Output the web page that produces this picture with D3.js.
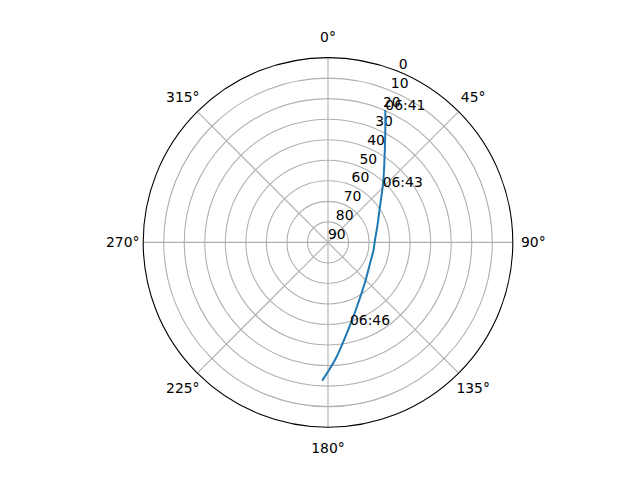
<!DOCTYPE html>
<html>
<head>
  <style>
    body { margin: 0; background: #ffffff; }
    svg { display: block; font-family: "DejaVu Sans", sans-serif; }
  </style>
</head>
<body>
  <div id="chart"></div>

  <script src="https://d3js.org/d3.v7.min.js"></script>
  <script>
    // pass track: azimuth (deg, clockwise from north) and elevation (deg)
    var trackAz = [23.4, 27.7, 36.6, 44.5, 55.5, 72.3, 87.1, 99.5, 112.3, 134.9, 151.5, 162.8, 170.7, 176.6, 182.4];
    var trackEl = [19.7, 30.0, 44.1, 52.0, 59.3, 64.8, 67.1, 67.5, 67.4, 64.1, 58.1, 50.4, 41.8, 32.6, 22.6];

    // time annotations along the pass
    var labelTimes = ["06:41", "06:43", "06:46"];
    var labelAz = [23.4, 44.5, 165.1];
    var labelEl = [19.7, 52.0, 48.4];

    // ticks
    var angleTicks = [0, 45, 90, 135, 180, 225, 270, 315];
    var radialTicks = [0, 10, 20, 30, 40, 50, 60, 70, 80, 90];

    var width = 640, height = 480;
    var cx = 328, cy = 242.4, R = 184.8;

    var svg = d3.select("#chart").append("svg")
      .attr("width", width)
      .attr("height", height);

    var g = svg.append("g").attr("transform", "translate(" + cx + "," + cy + ")");

    // elevation 90 at the centre, 0 on the rim
    var r = d3.scaleLinear().domain([90, 0]).range([0, R]);
    var rad = function(d) { return d * Math.PI / 180; };

    // grid circles
    g.selectAll("circle.grid")
      .data(radialTicks.filter(function(d) { return d > 0 && d < 90; }))
      .enter().append("circle")
      .attr("r", function(d) { return r(d); })
      .attr("fill", "none")
      .attr("stroke", "#b0b0b0")
      .attr("stroke-width", 1.1);

    // spokes
    g.selectAll("line.spoke")
      .data(angleTicks)
      .enter().append("line")
      .attr("x1", 0).attr("y1", 0)
      .attr("x2", function(d) { return R * Math.sin(rad(d)); })
      .attr("y2", function(d) { return -R * Math.cos(rad(d)); })
      .attr("stroke", "#b0b0b0")
      .attr("stroke-width", 1.1);

    // outer rim
    g.append("circle")
      .attr("r", r(0))
      .attr("fill", "none")
      .attr("stroke", "#000")
      .attr("stroke-width", 1.1);

    // angle labels
    g.selectAll("text.angle")
      .data(angleTicks)
      .enter().append("text")
      .attr("x", function(d) { return (R + 20.5) * Math.sin(rad(d)); })
      .attr("y", function(d) { return -(R + 20.5) * Math.cos(rad(d)); })
      .attr("text-anchor", "middle")
      .attr("dominant-baseline", "central")
      .attr("font-size", "13.9px")
      .text(function(d) { return d + "\u00b0"; });

    // radial labels, along 22.5 deg
    var labAng = rad(22.5);
    g.selectAll("text.rlab")
      .data(radialTicks)
      .enter().append("text")
      .attr("x", function(d) { return r(d) * Math.sin(labAng); })
      .attr("y", function(d) { return -r(d) * Math.cos(labAng) - 3; })
      .attr("font-size", "13.9px")
      .text(function(d) { return d; });

    // the pass
    var pts = trackAz.map(function(a, i) { return [rad(a), r(trackEl[i])]; });
    g.append("path")
      .attr("d", d3.lineRadial().curve(d3.curveNatural)(pts))
      .attr("fill", "none")
      .attr("stroke", "#1f77b4")
      .attr("stroke-width", 2);

    // time annotations
    g.selectAll("text.time")
      .data(labelTimes)
      .enter().append("text")
      .attr("x", function(d, i) { return r(labelEl[i]) * Math.sin(rad(labelAz[i])); })
      .attr("y", function(d, i) { return -r(labelEl[i]) * Math.cos(rad(labelAz[i])); })
      .attr("font-size", "13.9px")
      .text(function(d) { return d; });
  </script>
</body>
</html>
